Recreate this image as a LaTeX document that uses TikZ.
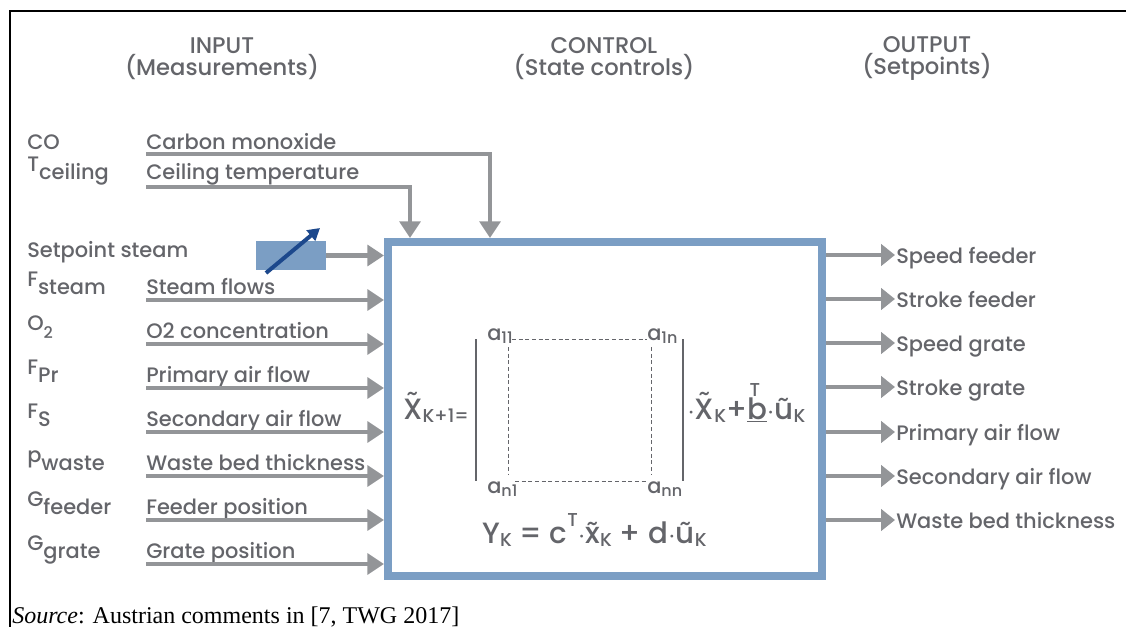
\documentclass[tikz,border=0pt]{standalone}
\usepackage{fontspec}
\setmainfont{Poppins Medium}
\newfontfamily\srcfont{Liberation Serif}
\usetikzlibrary{arrows.meta,positioning,calc}

\definecolor{txtgray}{RGB}{100,101,106}
\definecolor{arrgray}{RGB}{147,149,152}
\definecolor{boxblue}{RGB}{123,158,196}
\definecolor{knobblue}{RGB}{28,72,140}

% raised symbol letter with a subscript on the text baseline
\newcommand\symb[2]{\raisebox{6pt}{#1}#2}
\newcommand\lowsub[1]{\raisebox{-2.5pt}{\fontsize{12}{14}\selectfont #1}}
\newcommand\frsub[1]{\raisebox{-2.5pt}{\fontsize{14}{16}\selectfont #1}}
\newcommand\tldX[1]{\mbox{\ooalign{#1\cr\hidewidth\raisebox{0.2em}{\char"02DC}\hidewidth\cr}}}
\newcommand\tldx[1]{\mbox{\ooalign{#1\cr\hidewidth\char"02DC\hidewidth\cr}}}

\tikzset{
  lbl/.style={anchor=base west, inner sep=0pt, text=txtgray, font=\fontsize{15.7}{18}\selectfont},
  hdr/.style={anchor=base, align=center, inner sep=0pt, text=txtgray, font=\fontsize{17}{15}\selectfont},
  frml/.style={anchor=base west, inner sep=0pt, text=txtgray, font=\fontsize{22}{26}\selectfont},
  inarrow/.style={draw=arrgray, line width=3.4pt, -{Triangle[length=12.5pt,width=15.5pt]}},
  outarrow/.style={draw=arrgray, line width=3.2pt, -{Triangle[length=10.5pt,width=16pt]}},
  knob/.style={draw=knobblue, line width=3pt, -{Triangle[length=9pt,width=10pt]}},
  ctrlbox/.style={draw=boxblue, line width=6pt, minimum width=325.5pt, minimum height=250.5pt, inner sep=0pt},
  matbar/.style={draw=txtgray, line width=0.9pt},
  matdash/.style={draw=txtgray, line width=0.6pt, dash pattern=on 3pt off 2pt},
}

\begin{document}
\begin{tikzpicture}[x=0.75pt,y=-0.75pt]
\useasboundingbox (0,0) rectangle (1126,627);
\draw[line width=2.2pt] (10,627) -- (10,11) -- (1126,11);

% headers
\node[hdr] (hin) at (222,76) {INPUT\\(Measurements)};
\node[hdr] (hctrl) at (604,76) {CONTROL\\(State controls)};
\node[hdr] (hout) at (927,75) {OUTPUT\\(Setpoints)};

% control block
\node[ctrlbox] (ctrl) at (605,409) {};

% measurements into the top
\node[lbl] (sco) at (27,150) {CO};
\node[lbl] (lco) at (146,150) {Carbon monoxide};
\node[lbl] (sce) at (27,180) {\symb{T}{ceiling}};
\node[lbl] (lce) at (146,180) {Ceiling temperature};
\coordinate (co) at (146,154);
\coordinate (ce) at (146,187);
\coordinate (codrop) at (490,0);
\coordinate (cedrop) at (410,0);
\draw[inarrow] (co) -| (codrop |- ctrl.north);
\draw[inarrow] (ce) -| (cedrop |- ctrl.north);

% setpoint with adjuster
\node[lbl] (sspt) at (27,257) {Setpoint steam};
\node[fill=boxblue, minimum width=52.5pt, minimum height=21.75pt, inner sep=0pt] (spbox) at (291,255.5) {};
\draw[knob] (266,273) -- (320,228);
\draw[inarrow] (spbox.east) -- (spbox.east -| ctrl.west);

% measurements into the left side
\foreach \y/\sym/\txt [count=\i] in {
    300/{\symb{F}{steam}}/Steam flows,
    344/{\symb{O}{\fontsize{12}{14}\selectfont 2}}/O2 concentration,
    388/{\symb{F}{Pr}}/Primary air flow,
    432/{\symb{F}{S}}/Secondary air flow,
    476/{\symb{p}{waste}}/Waste bed thickness,
    520/{\symb{G}{feeder}}/Feeder position,
    564/{\symb{G}{grate}}/Grate position} {
  \node[lbl] (sym\i) at (27,\y-6) {\sym};
  \node[lbl] (lbl\i) at (146,\y-6) {\txt};
  \coordinate (in\i) at (146,\y);
  \draw[inarrow] (in\i) -- (in\i -| ctrl.west);
}

% setpoints out of the right side
\foreach \y/\txt [count=\i] in {255/Speed feeder, 299/Stroke feeder, 343/Speed grate,
    387/Stroke grate, 432/Primary air flow, 476/Secondary air flow, 520/Waste bed thickness} {
  \node[lbl] (out\i) at (896,\y+8) {\txt};
  \coordinate (tip\i) at (895,\y);
  \draw[outarrow] (ctrl.east |- tip\i) -- (tip\i);
}

% state equation
\node[frml] (xnext) at (403,419) {\tldX{X}\frsub{K+1=}};
\node[lbl] (a11) at (487,340) {a\lowsub{11}};
\node[lbl] (a1n) at (647,340) {a\lowsub{1n}};
\node[lbl] (an1) at (487,493) {a\lowsub{n1}};
\node[lbl] (ann) at (647,493) {a\lowsub{nn}};
\draw[matbar] (476,339) -- (476,481);
\draw[matbar] (683,339) -- (683,481);
\draw[matdash] (512,339) -- (647,339);
\draw[matdash] (515,481) -- (647,481);
\draw[matdash] (508,347) -- (508,475);
\draw[matdash] (651,347) -- (651,475);
\node[frml] (xrest) at (687,419) {$\cdot$\tldX{X}\frsub{K}+\rlap{\raisebox{0.78em}{\fontsize{14}{16}\selectfont\kern2pt T}}\underline{b}$\cdot$\tldx{u}\frsub{K}};
\node[frml] (yout) at (482,543) {Y\frsub{K} = c\raisebox{0.55em}{\fontsize{14}{16}\selectfont T}$\cdot$\tldx{x}\frsub{K} + d$\cdot$\tldx{u}\frsub{K}};

% source line
\node[anchor=base west, inner sep=0pt, font=\srcfont\fontsize{18}{21}\selectfont] (src) at (12,623) {\textit{Source}: Austrian comments in [7, TWG 2017]};
\end{tikzpicture}
\end{document}
